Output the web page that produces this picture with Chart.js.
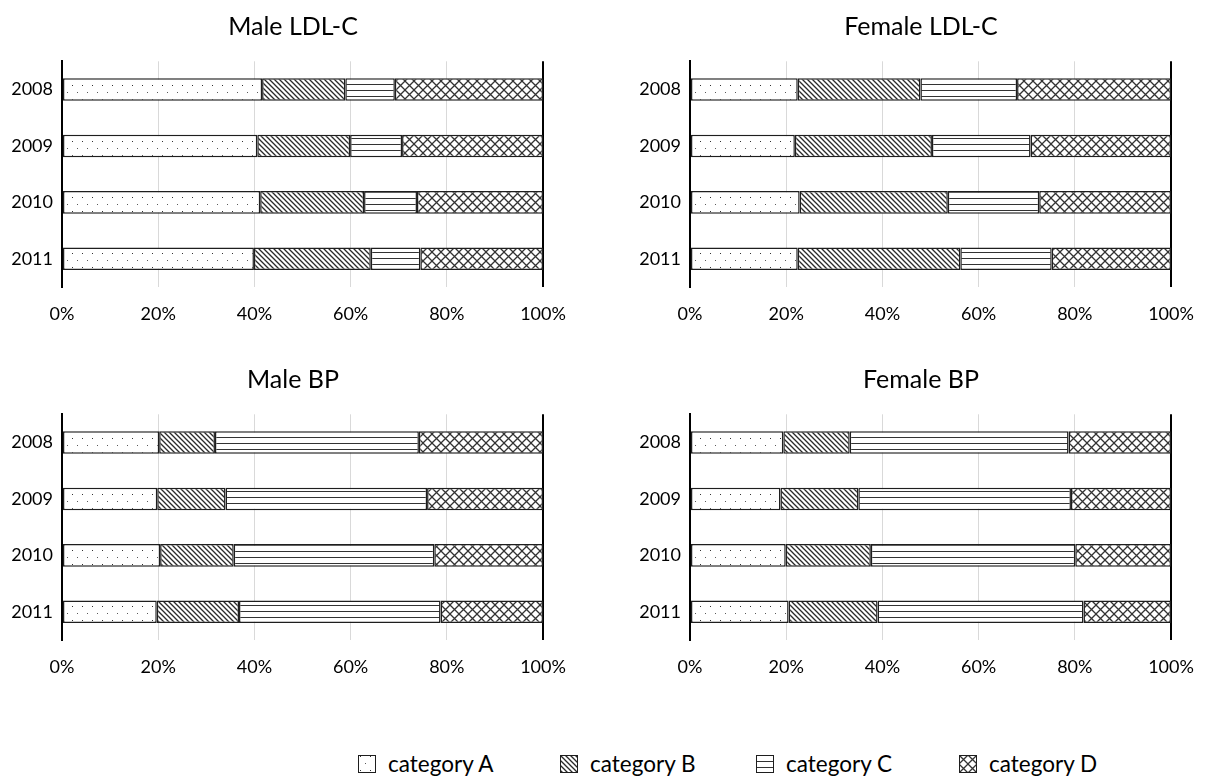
<!DOCTYPE html>
<html>
<head>
<meta charset="utf-8">
<title>LDL-C and BP categories, 2008–2011</title>
<script src="https://cdn.jsdelivr.net/npm/chart.js@4.4.1/dist/chart.umd.min.js"></script>
<style>
  html, body { margin: 0; padding: 0; background: #fff; width: 1205px; height: 783px; overflow: hidden; }
  canvas.panel { position: absolute; }
  .legend-item { position: absolute; display: flex; align-items: center; font-family: Lato, "Noto Sans", sans-serif; font-size: 22.5px; color: #000; white-space: nowrap; }
  .legend-item canvas { display: block; margin-right: 12px; }
</style>
</head>
<body>
<canvas class="panel" id="p0" width="586" height="340" style="left:0;top:0"></canvas>
<canvas class="panel" id="p1" width="586" height="340" style="left:628px;top:0"></canvas>
<canvas class="panel" id="p2" width="586" height="340" style="left:0;top:353px"></canvas>
<canvas class="panel" id="p3" width="586" height="340" style="left:628px;top:353px"></canvas>
<div id="legend"></div>
<script>
// Years on the category axis, top to bottom
const years = ['2008', '2009', '2010', '2011'];
const categoryNames = ['category A', 'category B', 'category C', 'category D'];
const tickValues = [0, 20, 40, 60, 80, 100];

// Share (%) of each category per year — Male LDL-C
const maleLdlA = [41.6, 40.6, 41.2, 39.9];
const maleLdlB = [17.3, 19.3, 21.6, 24.3];
const maleLdlC = [10.3, 10.8, 11.0, 10.3];
const maleLdlD = [30.8, 29.3, 26.2, 25.5];

// Female LDL-C
const femaleLdlA = [22.4, 21.8, 22.8, 22.4];
const femaleLdlB = [25.5, 28.5, 30.8, 33.8];
const femaleLdlC = [20.1, 20.5, 19.0, 19.0];
const femaleLdlD = [32.0, 29.2, 27.4, 24.8];

// Male BP
const maleBpA = [20.2, 19.8, 20.4, 19.7];
const maleBpB = [11.6, 14.2, 15.3, 17.1];
const maleBpC = [42.4, 41.9, 41.7, 41.9];
const maleBpD = [25.8, 24.1, 22.6, 21.3];

// Female BP
const femaleBpA = [19.4, 18.8, 19.9, 20.5];
const femaleBpB = [13.8, 16.2, 17.7, 18.5];
const femaleBpC = [45.5, 44.2, 42.5, 42.8];
const femaleBpD = [21.3, 20.8, 19.9, 18.2];

const FONT = 'Lato, "Noto Sans", sans-serif';

// ---- hatch fills ----------------------------------------------------------
function tile(w, h, draw) {
  const c = document.createElement('canvas');
  c.width = w; c.height = h;
  const g = c.getContext('2d');
  g.fillStyle = '#fff';
  g.fillRect(0, 0, w, h);
  draw(g, w, h);
  return c;
}
function dotsTile() {
  return tile(10, 14, (g) => {
    g.fillStyle = '#333';
    g.fillRect(2, 1, 1, 1);
    g.fillStyle = '#5a5a5a';
    g.fillRect(7, 8, 1, 1);
  });
}
function downDiagTile() {
  return tile(5, 5, (g, s) => {
    g.strokeStyle = '#2a2a2a';
    g.lineWidth = 1.3;
    g.beginPath();
    g.moveTo(-1, -1); g.lineTo(s + 1, s + 1);
    g.moveTo(-1, s - 1); g.lineTo(1, s + 1);
    g.moveTo(s - 1, -1); g.lineTo(s + 1, 1);
    g.stroke();
  });
}
function horizTile() {
  return tile(4, 6, (g) => {
    g.fillStyle = '#333';
    g.fillRect(0, 0, 4, 1);
  });
}
function crossTile() {
  return tile(9, 9, (g, s) => {
    g.strokeStyle = '#333';
    g.lineWidth = 1.3;
    g.beginPath();
    g.moveTo(-1, -1); g.lineTo(s + 1, s + 1);
    g.moveTo(-1, s + 1); g.lineTo(s + 1, -1);
    g.stroke();
  });
}
const tiles = [dotsTile(), downDiagTile(), horizTile(), crossTile()];

function patternsFor(ctx) {
  return tiles.map(t => ctx.createPattern(t, 'repeat'));
}

// ---- panels ---------------------------------------------------------------
const panels = [
  { id: 'p0', title: 'Male LDL-C',   series: [maleLdlA, maleLdlB, maleLdlC, maleLdlD] },
  { id: 'p1', title: 'Female LDL-C', series: [femaleLdlA, femaleLdlB, femaleLdlC, femaleLdlD] },
  { id: 'p2', title: 'Male BP',      series: [maleBpA, maleBpB, maleBpC, maleBpD] },
  { id: 'p3', title: 'Female BP',    series: [femaleBpA, femaleBpB, femaleBpC, femaleBpD] }
];

const edge = (v) => v === 0 || v === 100;

panels.forEach(p => {
  const ctx = document.getElementById(p.id).getContext('2d');
  const fills = patternsFor(ctx);
  new Chart(ctx, {
    type: 'bar',
    data: {
      labels: years,
      datasets: categoryNames.map((name, i) => ({
        label: name,
        data: p.series[i],
        backgroundColor: fills[i],
        borderColor: '#1e1e1e',
        borderWidth: 1.5,
        borderSkipped: false,
        barPercentage: 0.4,
        categoryPercentage: 1
      }))
    },
    options: {
      indexAxis: 'y',
      responsive: false,
      animation: false,
      layout: { padding: 0 },
      plugins: {
        legend: { display: false },
        tooltip: { enabled: false },
        title: {
          display: true,
          text: p.title,
          color: '#000',
          font: { family: FONT, size: 25, weight: 'normal' },
          padding: { top: 11.5, bottom: 19.8 }
        }
      },
      scales: {
        x: {
          stacked: true,
          min: 0,
          max: 100,
          afterBuildTicks: (s) => { s.ticks = tickValues.map(v => ({ value: v })); },
          ticks: {
            color: '#000',
            font: { family: FONT, size: 18 },
            padding: 16,
            maxRotation: 0,
            autoSkip: false,
            callback: (v) => v + '%'
          },
          grid: {
            drawTicks: false,
            color: (c) => edge(c.tick.value) ? '#000' : '#d9d9d9',
            lineWidth: (c) => edge(c.tick.value) ? 2 : 1
          },
          border: { display: false },
          afterFit: (s) => { s.height = 53; s.paddingLeft = 0; s.paddingRight = 0; }
        },
        y: {
          stacked: true,
          ticks: { color: '#000', font: { family: FONT, size: 18 }, padding: 9 },
          grid: { display: false, drawTicks: false },
          border: { display: true, color: '#000', width: 2 },
          afterFit: (s) => { s.width = 62; s.paddingTop = 0; s.paddingBottom = 0; }
        },
        // empty right-hand margin so the panel title centres over the whole panel
        yGap: {
          type: 'category',
          axis: 'y',
          position: 'right',
          ticks: { display: false },
          grid: { display: false, drawTicks: false },
          border: { display: false },
          afterFit: (s) => { s.width = 43; s.paddingTop = 0; s.paddingBottom = 0; }
        }
      }
    }
  });
});

// ---- shared legend --------------------------------------------------------
const legend = document.getElementById('legend');
const legendX = [358, 560, 756, 959];
categoryNames.forEach((name, i) => {
  const item = document.createElement('div');
  item.className = 'legend-item';
  item.style.left = legendX[i] + 'px';
  item.style.top = '750px';
  const sw = document.createElement('canvas');
  sw.width = 18; sw.height = 18;
  const g = sw.getContext('2d');
  g.fillStyle = g.createPattern(tiles[i], 'repeat');
  g.fillRect(0, 0, 18, 18);
  g.strokeStyle = '#1e1e1e';
  g.lineWidth = 1;
  g.strokeRect(0.5, 0.5, 17, 17);
  const label = document.createElement('span');
  label.textContent = name;
  item.appendChild(sw);
  item.appendChild(label);
  legend.appendChild(item);
});
</script>
</body>
</html>
